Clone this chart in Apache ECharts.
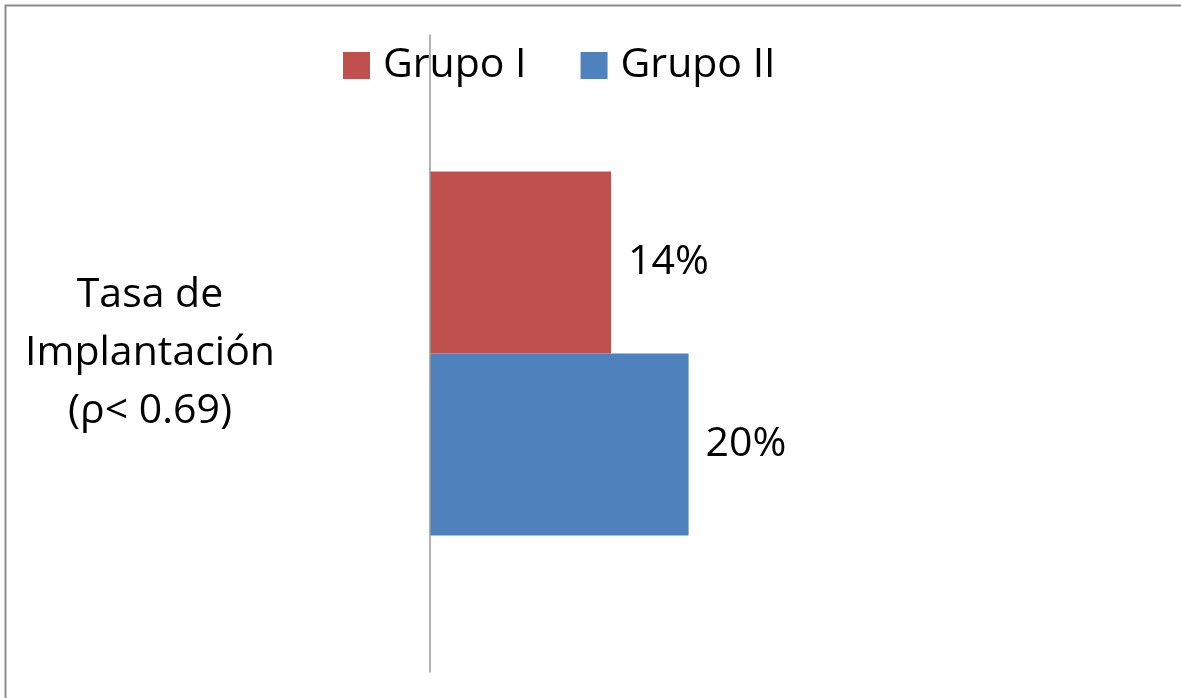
<!DOCTYPE html>
<html>
<head>
<meta charset="utf-8">
<style>
html,body{margin:0;padding:0;background:#fff;}
#chart{width:1181px;height:698px;}
</style>
<script src="https://cdn.jsdelivr.net/npm/echarts@6/dist/echarts.min.js"></script>
</head>
<body>
<div id="chart"></div>
<script>
const categories = ['Tasa de\nImplantación\n(ρ< 0.69)'];
const seriesNames = ['Grupo I', 'Grupo II'];
const grupoI = [0.14];
const grupoII = [0.20];
const colors = ['#C0504D', '#4F81BD'];

const FONT = '"Open Sans", sans-serif';
const chart = echarts.init(document.getElementById('chart'), null, {renderer: 'canvas'});
const pct = p => Math.round(p.value * 100) + '%';
const labelCfg = {show: true, position: 'right', distance: 17, formatter: pct,
  fontFamily: FONT, fontSize: 41, color: '#000', padding: [6, 0, 0, 0]};

chart.setOption({
  animation: false,
  backgroundColor: '#fff',
  graphic: [{
    type: 'rect', z: 0, silent: true,
    shape: {x: 5.5, y: 5.5, width: 1250, height: 750},
    style: {fill: 'none', stroke: '#8c8c8c', lineWidth: 2}
  }],
  legend: {
    top: 45, left: 343, padding: 0,
    itemWidth: 27, itemHeight: 27, itemGap: 54,
    icon: 'rect',
    textStyle: {fontFamily: FONT, fontSize: 41, color: '#000', padding: [0, 0, 0, 8]},
    data: seriesNames
  },
  grid: {left: 430, top: 35, width: 646.5, height: 637, containLabel: false},
  xAxis: {type: 'value', min: 0, max: 0.5, show: false},
  yAxis: {
    type: 'category', data: categories, inverse: true, z: 10,
    axisLine: {show: true, lineStyle: {color: '#999', width: 1.5}},
    axisTick: {show: false},
    axisLabel: {fontFamily: FONT, fontSize: 41, color: '#000', lineHeight: 58,
      align: 'center', margin: 280, padding: [6, 0, 0, 0]}
  },
  series: [
    {name: seriesNames[0], type: 'bar', data: grupoI, barWidth: 182, barGap: '0%',
      itemStyle: {color: colors[0]}, label: labelCfg},
    {name: seriesNames[1], type: 'bar', data: grupoII, barWidth: 182, barGap: '0%',
      itemStyle: {color: colors[1]}, label: labelCfg}
  ]
});
</script>
</body>
</html>
